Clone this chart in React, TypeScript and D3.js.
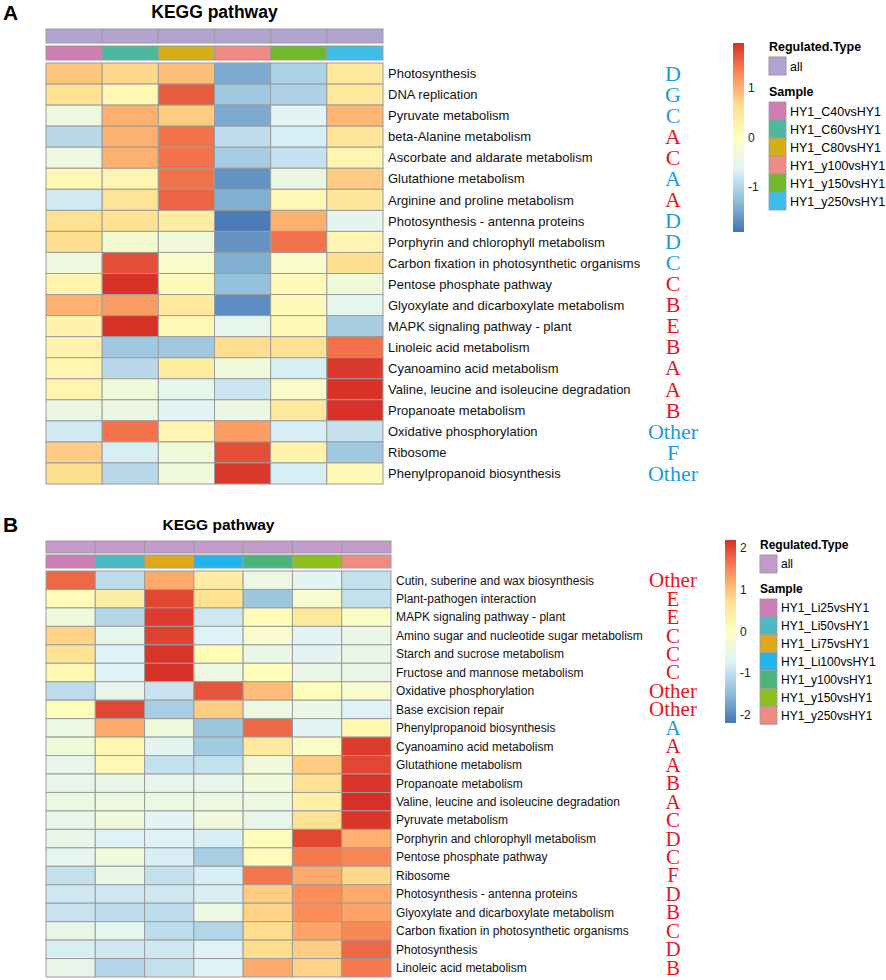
import React from 'react';
import * as d3 from 'd3';

// ---- panel A data ----
const samplesA = ['HY1_C40vsHY1', 'HY1_C60vsHY1', 'HY1_C80vsHY1', 'HY1_y100vsHY1', 'HY1_y150vsHY1', 'HY1_y250vsHY1'];
const sampleColorsA = ['#CC7EB3', '#4DB8A0', '#D6AE1A', '#F08A85', '#72B82C', '#3CBEE8'];
const pathwaysA = [
  'Photosynthesis', 'DNA replication', 'Pyruvate metabolism', 'beta-Alanine metabolism',
  'Ascorbate and aldarate metabolism', 'Glutathione metabolism', 'Arginine and proline metabolism',
  'Photosynthesis - antenna proteins', 'Porphyrin and chlorophyll metabolism',
  'Carbon fixation in photosynthetic organisms', 'Pentose phosphate pathway',
  'Glyoxylate and dicarboxylate metabolism', 'MAPK signaling pathway - plant', 'Linoleic acid metabolism',
  'Cyanoamino acid metabolism', 'Valine, leucine and isoleucine degradation', 'Propanoate metabolism',
  'Oxidative phosphorylation', 'Ribosome', 'Phenylpropanoid biosynthesis',
];
const valuesA = [
  [0.85, 0.7, 0.9, -1.45, -1.05, 0.45],
  [0.6, 0.15, 1.6, -1.15, -1.05, 0.45],
  [-0.35, 1.0, 0.8, -1.45, -0.6, 0.95],
  [-0.95, 1.0, 1.45, -0.9, -0.7, 0.55],
  [-0.35, 1.0, 1.45, -1.1, -0.85, 0.2],
  [0.15, 0.2, 1.45, -1.65, -0.4, 0.8],
  [-0.75, 0.55, 1.55, -1.4, 0.15, 0.5],
  [0.6, 0.6, 0.4, -1.85, 1.0, -0.55],
  [0.65, -0.2, -0.3, -1.65, 1.45, 0.2],
  [-0.35, 1.7, -0.15, -1.4, -0.15, 0.65],
  [0.2, 1.9, 0.1, -1.25, 0.1, -0.3],
  [1.0, 1.15, 0.45, -1.7, 0.1, -0.5],
  [0.25, 1.9, 0.15, -0.5, 0.1, -1.1],
  [0.25, -1.15, -1.15, 0.65, 0.6, 1.45],
  [0.2, -0.95, 0.4, -0.3, -0.7, 1.85],
  [0.2, -0.3, -0.5, -0.8, -0.15, 1.9],
  [-0.4, -0.4, -0.6, -0.4, 0.45, 1.9],
  [-0.75, 1.45, 0.2, 1.15, -0.7, -0.85],
  [0.8, -0.7, -0.3, 1.7, 0.25, -1.15],
  [0.65, -0.95, -0.3, 1.85, -0.7, 0.1],
];
const classesA = ['D', 'G', 'C', 'A', 'C', 'A', 'A', 'D', 'D', 'C', 'C', 'B', 'E', 'B', 'A', 'A', 'B', 'Other', 'F', 'Other'];
const trendA = ['dn', 'dn', 'dn', 'up', 'up', 'dn', 'up', 'dn', 'dn', 'dn', 'up', 'up', 'up', 'up', 'up', 'up', 'up', 'dn', 'dn', 'dn'];
const ticksA = [-1, 0, 1];

// ---- panel B data ----
const samplesB = ['HY1_Li25vsHY1', 'HY1_Li50vsHY1', 'HY1_Li75vsHY1', 'HY1_Li100vsHY1', 'HY1_y100vsHY1', 'HY1_y150vsHY1', 'HY1_y250vsHY1'];
const sampleColorsB = ['#CC7DB5', '#4CB9C4', '#E0A91B', '#22B5EC', '#4AB47A', '#8DC11F', '#F08B82'];
const pathwaysB = [
  'Cutin, suberine and wax biosynthesis', 'Plant-pathogen interaction', 'MAPK signaling pathway - plant',
  'Amino sugar and nucleotide sugar metabolism', 'Starch and sucrose metabolism', 'Fructose and mannose metabolism',
  'Oxidative phosphorylation', 'Base excision repair', 'Phenylpropanoid biosynthesis', 'Cyanoamino acid metabolism',
  'Glutathione metabolism', 'Propanoate metabolism', 'Valine, leucine and isoleucine degradation',
  'Pyruvate metabolism', 'Porphyrin and chlorophyll metabolism', 'Pentose phosphate pathway', 'Ribosome',
  'Photosynthesis - antenna proteins', 'Glyoxylate and dicarboxylate metabolism',
  'Carbon fixation in photosynthetic organisms', 'Photosynthesis', 'Linoleic acid metabolism',
];
const valuesB = [
  [1.75, -1.05, 1.2, 0.4, -0.45, -0.65, -1.0],
  [0.1, 0.4, 2.0, 0.65, -1.35, -0.2, -1.0],
  [-0.35, -1.15, 2.1, -0.9, 0.1, 0.55, -0.1],
  [0.85, -0.55, 2.05, -0.75, -0.2, -0.65, -0.5],
  [0.65, -0.75, 2.15, 0.1, -0.5, -0.65, -0.5],
  [0.2, -0.75, 2.2, -0.45, 0.05, -0.5, -0.5],
  [-1.05, -0.55, -0.95, 1.9, 1.05, 0.05, -0.2],
  [0.1, 2.0, -1.25, 0.9, -0.45, -0.5, -0.75],
  [-0.45, 1.2, -0.35, -1.35, 1.75, -0.65, 0.2],
  [-0.35, 0.2, -0.65, -1.3, 0.5, -0.1, 2.1],
  [-0.55, 0.15, -1.0, -1.0, -0.35, 0.9, 2.0],
  [-0.55, -0.55, -0.55, -0.55, -0.35, 0.68, 2.15],
  [-0.45, -0.45, -0.45, -0.45, -0.45, 0.35, 2.2],
  [-0.55, -0.35, -0.65, -0.35, -0.55, 0.68, 2.15],
  [-0.55, -0.75, -0.75, -0.8, 0.05, 2.0, 1.15],
  [-0.6, -0.35, -0.8, -1.25, 0.1, 1.6, 1.5],
  [-1.0, -0.55, -1.0, -0.8, 1.65, 1.2, 0.8],
  [-0.9, -0.9, -0.9, -0.8, 0.9, 1.45, 1.2],
  [-0.95, -1.05, -1.05, -0.45, 0.85, 1.45, 1.25],
  [-0.55, -0.6, -1.05, -1.15, 0.75, 1.25, 1.5],
  [-0.8, -0.9, -0.9, -0.75, 0.75, 0.9, 1.75],
  [-0.55, -1.15, -1.0, -0.75, 1.2, 0.85, 1.6],
];
const classesB = ['Other', 'E', 'E', 'C', 'C', 'C', 'Other', 'Other', 'A', 'A', 'A', 'B', 'A', 'C', 'D', 'C', 'F', 'D', 'B', 'C', 'D', 'B'];
const trendB = ['up', 'up', 'up', 'up', 'up', 'up', 'up', 'up', 'dn', 'up', 'up', 'up', 'up', 'up', 'up', 'up', 'up', 'up', 'up', 'up', 'up', 'up'];
const ticksB = [-2, -1, 0, 1, 2];

const palette = ['#4575B4', '#91BFDB', '#E0F3F8', '#FFFFBF', '#FEE090', '#FC8D59', '#D73027'];
const trendColor: Record<string, string> = { up: '#E8141E', dn: '#1A9BE0' };
const SANS = '"Liberation Sans", Arial, Helvetica, sans-serif';
const SERIF = '"Liberation Serif", "Times New Roman", serif';
const GRID = '#9C9C9C';

function Panel(props: any) {
  const { letter, letterY, title, titleY, titleSize, x0, x1, y0, y1, ann1, ann2, typeColor,
    samples, sampleColors, pathways, values, classes, trend, labelSize, classSize, vmax,
    bar, ticks, leg } = props;

  const x = d3.scaleBand<number>().domain(d3.range(samples.length)).range([x0, x1]);
  const y = d3.scaleBand<number>().domain(d3.range(pathways.length)).range([y0, y1]);
  const color = d3.scaleLinear<string>()
    .domain(palette.map((_, i) => -vmax + (2 * vmax * i) / (palette.length - 1)))
    .range(palette)
    .interpolate(d3.interpolateRgb)
    .clamp(true);
  const barY = d3.scaleLinear().domain([-vmax, vmax]).range([bar.y1, bar.y0]);
  const gid = 'grad' + letter;

  return (
    <g>
      <text x={3} y={letterY} fontFamily={SANS} fontWeight="bold" fontSize={21}>{letter}</text>
      <text x={(x0 + x1) / 2} y={titleY} textAnchor="middle" fontFamily={SANS} fontWeight="bold" fontSize={titleSize}>{title}</text>

      {/* annotation rows */}
      {samples.map((s: string, i: number) => (
        <rect key={'t' + s} x={x(i)} y={ann1[0]} width={x.bandwidth()} height={ann1[1]}
          fill={typeColor} stroke={GRID} strokeWidth={1} />
      ))}
      {samples.map((s: string, i: number) => (
        <rect key={'s' + s} x={x(i)} y={ann2[0]} width={x.bandwidth()} height={ann2[1]}
          fill={sampleColors[i]} stroke={GRID} strokeWidth={1} />
      ))}

      {/* heatmap */}
      {values.map((row: number[], r: number) =>
        row.map((v, c) => (
          <rect key={r + '-' + c} x={x(c)} y={y(r)} width={x.bandwidth()} height={y.bandwidth()}
            fill={color(v)} stroke={GRID} strokeWidth={1} />
        ))
      )}

      {pathways.map((p: string, r: number) => (
        <text key={p} x={x1 + 5} y={(y(r) as number) + y.bandwidth() / 2 + labelSize * 0.36}
          fontFamily={SANS} fontSize={labelSize} fill="#111">{p}</text>
      ))}
      {classes.map((c: string, r: number) => (
        <text key={'c' + r} x={673} y={(y(r) as number) + y.bandwidth() / 2 + classSize * 0.33}
          textAnchor="middle" fontFamily={SERIF} fontSize={classSize} fill={trendColor[trend[r]]}>{c}</text>
      ))}

      {/* colour bar */}
      <defs>
        <linearGradient id={gid} x1="0" y1="1" x2="0" y2="0">
          {palette.map((p, i) => (
            <stop key={p} offset={i / (palette.length - 1)} stopColor={p} />
          ))}
        </linearGradient>
      </defs>
      <rect x={bar.x} y={bar.y0} width={11} height={bar.y1 - bar.y0} fill={`url(#${gid})`} />
      {ticks.map((t: number) => (
        <text key={t} x={bar.x + 15} y={barY(t) + 4} fontFamily={SANS} fontSize={12} fill="#222">{t}</text>
      ))}

      {/* legends */}
      <text x={leg.x} y={leg.typeY} fontFamily={SANS} fontWeight="bold" fontSize={leg.size}>Regulated.Type</text>
      <rect x={leg.x} y={leg.typeY + 6} width={17} height={leg.step} fill={typeColor} stroke={GRID} />
      <text x={leg.x + 21} y={leg.typeY + 6 + leg.step / 2 + 4.5} fontFamily={SANS} fontSize={leg.size}>all</text>
      <text x={leg.x} y={leg.sampleY} fontFamily={SANS} fontWeight="bold" fontSize={leg.size}>Sample</text>
      {samples.map((s: string, i: number) => (
        <g key={'l' + s}>
          <rect x={leg.x} y={leg.sampleY + 6 + i * leg.step} width={17} height={leg.step}
            fill={sampleColors[i]} stroke={GRID} strokeWidth={0.8} />
          <text x={leg.x + 21} y={leg.sampleY + 6 + i * leg.step + leg.step / 2 + 4.5}
            fontFamily={SANS} fontSize={leg.size}>{s}</text>
        </g>
      ))}
    </g>
  );
}

export default function App() {
  return (
    <svg width={886} height={980} style={{ position: 'absolute', left: 0, top: 0, background: '#fff' }}>
      <rect width={886} height={980} fill="#fff" />
      <Panel letter="A" letterY={20} title="KEGG pathway" titleY={18} titleSize={17.5}
        x0={46} x1={383} y0={63} y1={484} ann1={[29, 14]} ann2={[46, 14]} typeColor="#B3A3D1"
        samples={samplesA} sampleColors={sampleColorsA} pathways={pathwaysA} values={valuesA}
        classes={classesA} trend={trendA} labelSize={13} classSize={22} vmax={1.91}
        bar={{ x: 733, y0: 43, y1: 232 }} ticks={ticksA}
        leg={{ x: 769, typeY: 51, sampleY: 96, step: 18, size: 12.5 }} />
      <Panel letter="B" letterY={532} title="KEGG pathway" titleY={530} titleSize={15.5}
        x0={46} x1={391} y0={571} y1={977} ann1={[541, 12]} ann2={[555, 13]} typeColor="#C39BCB"
        samples={samplesB} sampleColors={sampleColorsB} pathways={pathwaysB} values={valuesB}
        classes={classesB} trend={trendB} labelSize={12} classSize={21} vmax={2.19}
        bar={{ x: 725, y0: 540, y1: 723 }} ticks={ticksB}
        leg={{ x: 760, typeY: 549, sampleY: 593, step: 17.9, size: 12 }} />
    </svg>
  );
}
